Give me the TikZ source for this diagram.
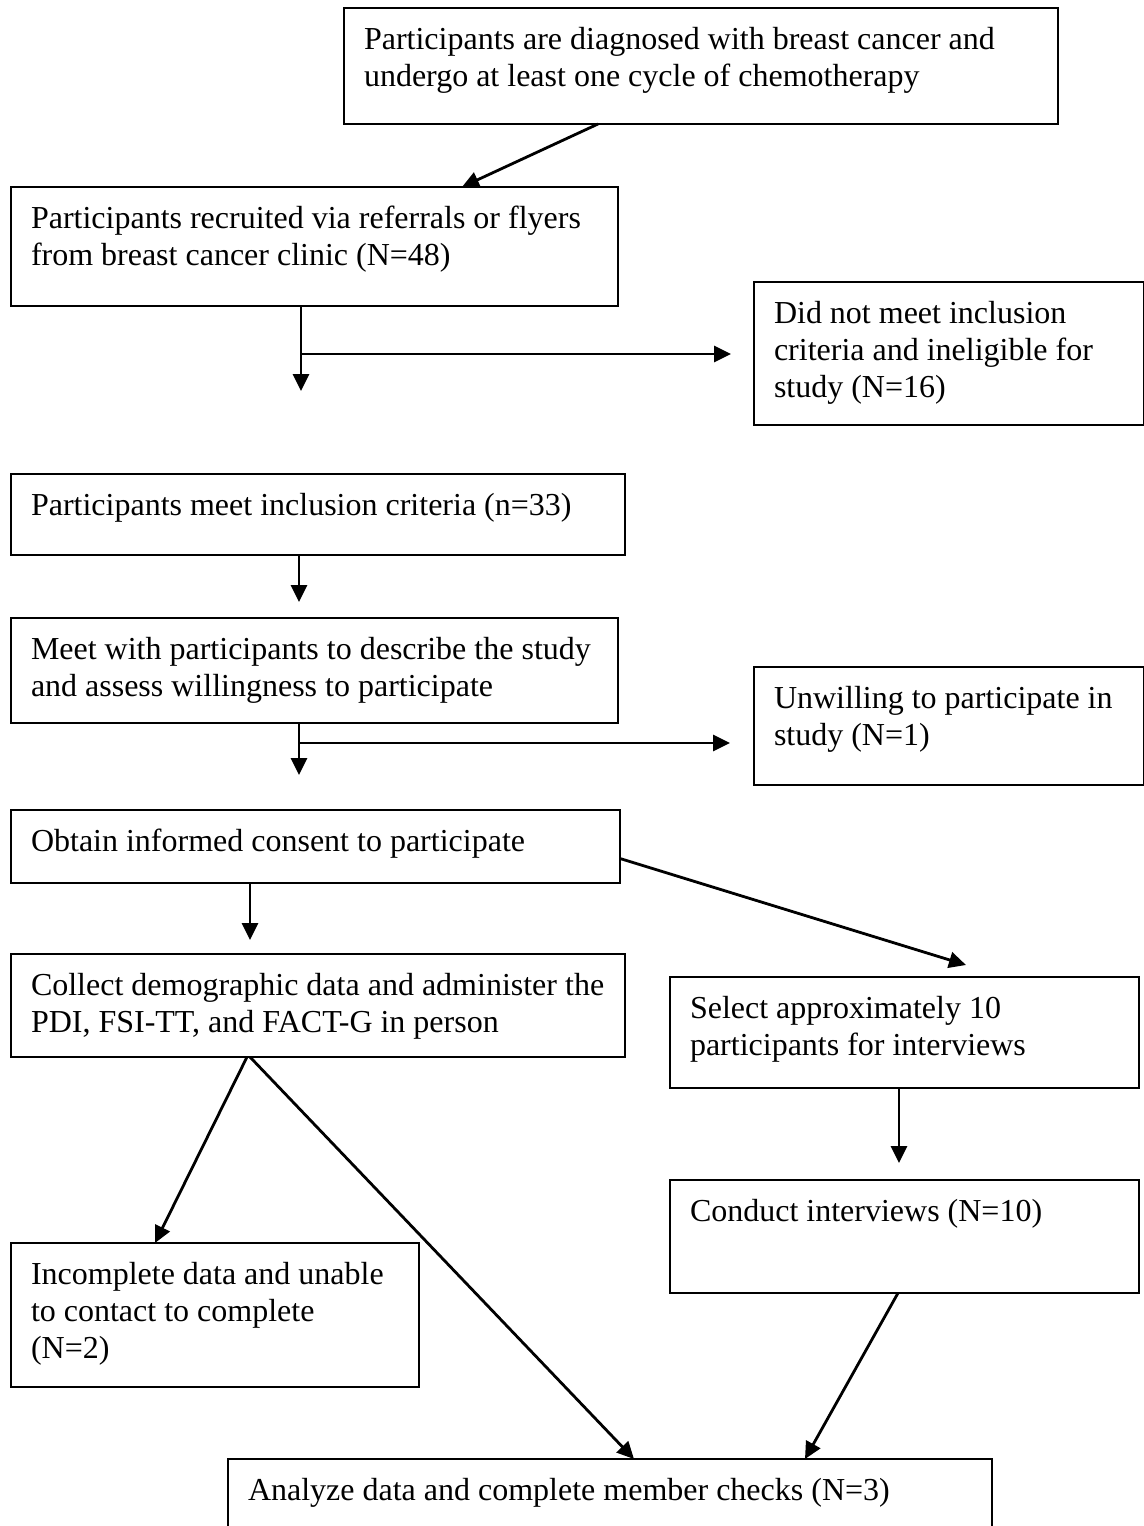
\documentclass[tikz,border=0pt]{standalone}
\usepackage{fontspec}
\setmainfont{Liberation Serif}
\usetikzlibrary{arrows.meta}
\newdimen\upx \upx=0.5pt
\newcommand\fcboxtext[3]{\vbox to #2\upx{\hsize=#1\upx\parindent=0pt\leftskip=20\upx\rightskip=0pt plus 1fil\baselineskip=37\upx\lineskip=0pt\lineskiplimit=-100pt\vskip4\upx\prevdepth=0pt\noindent #3\par\vfil}}
\begin{document}
\begin{tikzpicture}[x=0.5pt,y=-0.5pt,
  box/.style={draw, line width=1pt, inner sep=0pt, outer sep=0pt, anchor=north west, font=\fontsize{16pt}{18.5pt}\selectfont},
  arr/.style={line width=1.4pt, -{Triangle[length=8.5pt,width=8pt]}}]
\useasboundingbox (0,0) rectangle (1144,1526);
\node[box] (b1) at (344,8) {\fcboxtext{714}{116}{Participants are diagnosed with breast cancer and\par undergo at least one cycle of chemotherapy}};
\node[box] (b2) at (11,187) {\fcboxtext{607}{119}{Participants recruited via referrals or flyers\par from breast cancer clinic (N=48)}};
\node[box] (b3) at (754,282) {\fcboxtext{390}{143}{Did not meet inclusion\par criteria and ineligible for\par study (N=16)}};
\node[box] (b4) at (11,474) {\fcboxtext{614}{81}{Participants meet inclusion criteria (n=33)}};
\node[box] (b5) at (11,618) {\fcboxtext{607}{105}{Meet with participants to describe the study\par and assess willingness to participate}};
\node[box] (b6) at (754,667) {\fcboxtext{390}{118}{Unwilling to participate in\par study (N=1)}};
\node[box] (b7) at (11,810) {\fcboxtext{609}{73}{Obtain informed consent to participate}};
\node[box] (b8) at (11,954) {\fcboxtext{614}{103}{Collect demographic data and administer the\par PDI, FSI-TT, and FACT-G in person}};
\node[box] (b9) at (670,977) {\fcboxtext{469}{111}{Select approximately 10\par participants for interviews}};
\node[box] (b10) at (670,1180) {\fcboxtext{469}{113}{Conduct interviews (N=10)}};
\node[box] (b11) at (11,1243) {\fcboxtext{408}{144}{Incomplete data and unable\par to contact to complete\par (N=2)}};
\node[box] (b12) at (228,1459) {\fcboxtext{764}{90}{Analyze data and complete member checks (N=3)}};
% connectors
\draw[arr] ([xshift=127pt]b1.south west) -- ([xshift=225.5pt]b2.north west);
\coordinate (e1) at (301,391);
\coordinate (j1) at (301,354);
\coordinate (t1) at ([xshift=-11.5pt]b3.west);
\draw[arr] ([xshift=145pt]b2.south west) -- (e1);
\draw[arr] (j1) -- (t1 |- j1);
\draw[arr] ([xshift=144pt]b4.south west) -- ([xshift=144pt,yshift=8pt]b5.north west);
\coordinate (e2) at (299,775);
\coordinate (j2) at (299,743);
\coordinate (t2) at ([xshift=-12pt]b6.west);
\draw[arr] ([xshift=144pt]b5.south west) -- (e2);
\draw[arr] (j2) -- (t2 |- j2);
\draw[arr] ([xshift=119.5pt]b7.south west) -- ([xshift=119.5pt,yshift=7pt]b8.north west);
\draw[arr] ([yshift=-6pt]b7.east) -- ([xshift=148pt,yshift=6pt]b9.north west);
\draw[arr] ([xshift=118pt]b8.south west) -- ([xshift=72pt]b11.north west);
\draw[arr] ([xshift=119.5pt]b8.south west) -- ([xshift=203pt]b12.north west);
\draw[arr] ([xshift=114.5pt]b9.south west) -- ([xshift=114.5pt,yshift=8.5pt]b10.north west);
\draw[arr] ([xshift=114pt]b10.south west) -- ([xshift=288.5pt]b12.north west);
\end{tikzpicture}
\end{document}
